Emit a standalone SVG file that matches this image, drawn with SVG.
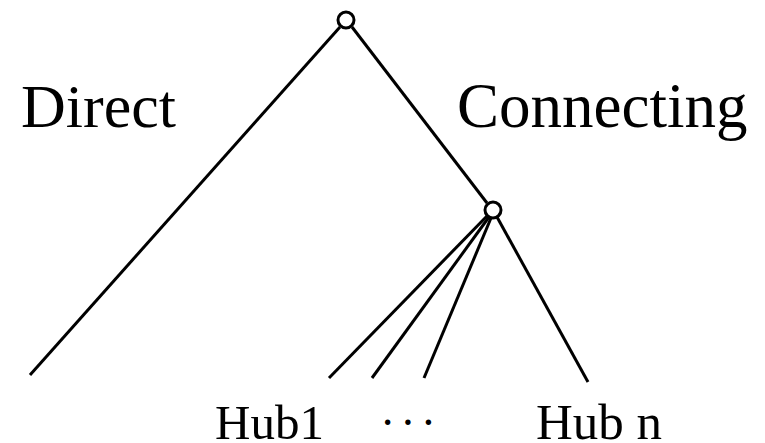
<svg xmlns="http://www.w3.org/2000/svg" width="765" height="443" viewBox="0 0 765 443">
<style>
.e{stroke:#000;stroke-width:3;fill:none;stroke-linecap:butt}
.n{stroke:#000;stroke-width:3;fill:#fff}
.t{font-family:"Liberation Serif","Times New Roman",serif;fill:#000}
</style>
<rect width="765" height="443" fill="#fff"/>
<g id="connectors">
<line class="e" x1="340" y1="27" x2="30" y2="375"/>
<line class="e" x1="352" y1="27" x2="487" y2="203"/>
<line class="e" x1="487" y1="216" x2="329" y2="378"/>
<line class="e" x1="489" y1="217" x2="372" y2="378"/>
<line class="e" x1="491" y1="218" x2="424" y2="378"/>
<line class="e" x1="497" y1="217" x2="588" y2="382"/>
</g>
<g id="root"><circle class="n" cx="346" cy="20" r="8"/></g>
<g id="hub"><circle class="n" cx="493" cy="210" r="8"/></g>
<g id="label-direct"><text class="t" x="21" y="127" font-size="62">Direct</text></g>
<g id="label-connecting"><text class="t" x="457" y="127" font-size="63">Connecting</text></g>
<g id="label-hub1"><text class="t" x="215" y="439" font-size="49">Hub1</text></g>
<g id="label-dots"><text class="t" x="380" y="438" font-size="46" letter-spacing="5">···</text></g>
<g id="label-hubn"><text class="t" x="536" y="439" font-size="51">Hub n</text></g>
</svg>
